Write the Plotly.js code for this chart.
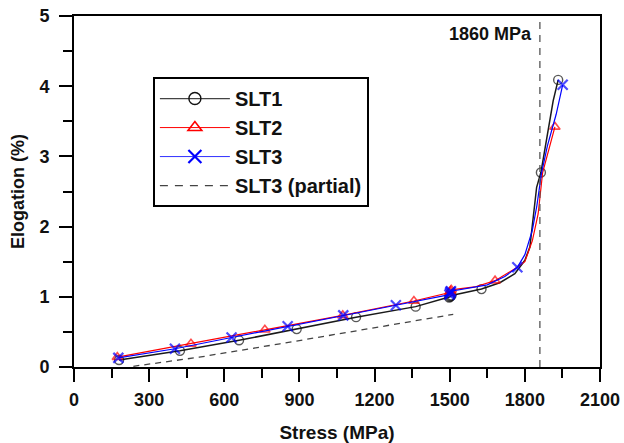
<!DOCTYPE html>
<html>
<head>
<meta charset="utf-8">
<script src="https://cdn.plot.ly/plotly-3.0.1.min.js"></script>
<style>html,body{margin:0;padding:0;background:#fff;}#chart{width:624px;height:443px;}</style>
</head>
<body>
<div id="chart"></div>
<script>
// ---- Data ----
// SLT1: sampled curve points (no marker) and marker points
const slt1CurveX = [1700, 1760, 1800, 1820, 1834, 1847, 1887, 1913];
const slt1CurveY = [1.20, 1.33, 1.52, 1.71, 2.18, 2.56, 3.23, 3.79];
const slt1MarkX = [180, 423, 659, 889, 1126, 1364, 1498, 1501, 1504, 1507, 1627, 1864, 1933];
const slt1MarkY = [0.10, 0.23, 0.38, 0.54, 0.71, 0.86, 0.99, 1.00, 1.01, 1.02, 1.11, 2.77, 4.09];

const slt2CurveX = [1600, 1760, 1800, 1830, 1853, 1871, 1895];
const slt2CurveY = [1.14, 1.40, 1.50, 1.80, 2.18, 2.77, 3.10];
const slt2MarkX = [173, 467, 762, 1073, 1357, 1500, 1503, 1506, 1681, 1920];
const slt2MarkY = [0.14, 0.33, 0.53, 0.735, 0.94, 1.06, 1.08, 1.10, 1.23, 3.42];

const slt3CurveX = [1650, 1720, 1800, 1830, 1848, 1866, 1890, 1925];
const slt3CurveY = [1.17, 1.29, 1.60, 1.95, 2.30, 2.75, 3.15, 3.60];
const slt3MarkX = [177, 403, 629, 853, 1075, 1285, 1499, 1501, 1503, 1505, 1770, 1951];
const slt3MarkY = [0.13, 0.26, 0.42, 0.58, 0.735, 0.88, 1.03, 1.05, 1.07, 1.08, 1.42, 4.02];

const partialX = [237, 500, 822, 1100, 1514];
const partialY = [0.01, 0.14, 0.33, 0.50, 0.75];

const seriesNames = ['SLT1', 'SLT2', 'SLT3', 'SLT3 (partial)'];

const refStress = 1860;
const refLabel = '1860 MPa';

const xTicks = [0, 300, 600, 900, 1200, 1500, 1800, 2100];
const yTicks = [0, 1, 2, 3, 4, 5];

// ---- Build traces ----
function merge(cx, cy, mx, my, msize) {
  const pts = [];
  cx.forEach((x, i) => pts.push({x: x, y: cy[i], s: 0}));
  mx.forEach((x, i) => pts.push({x: x, y: my[i], s: msize}));
  pts.sort((a, b) => a.x - b.x || a.y - b.y);
  return {x: pts.map(p => p.x), y: pts.map(p => p.y), s: pts.map(p => p.s)};
}
const s1 = merge(slt1CurveX, slt1CurveY, slt1MarkX, slt1MarkY, 9);
const s2 = merge(slt2CurveX, slt2CurveY, slt2MarkX, slt2MarkY, 9);
const s3 = merge(slt3CurveX, slt3CurveY, slt3MarkX, slt3MarkY, 10);

const FONT = 'Liberation Sans, Arial, sans-serif';

const styles = [
  {line: {color: '#1a1a1a', width: 1.5}, lline: {color: '#444', width: 1.2},
   marker: {symbol: 'circle-open', color: '#111111', line: {width: 1.4}}},
  {line: {color: '#ff0000', width: 1.2}, lline: {color: '#ff0000', width: 1.0},
   marker: {symbol: 'triangle-up-open', color: '#ff0000', line: {width: 1.6}}},
  {line: {color: '#0000ff', width: 1.2}, lline: {color: '#3030ff', width: 1.0},
   marker: {symbol: 'x-thin-open', color: '#0000ff', line: {width: 2.2, color: '#0000ff'}}}
];
const series = [s1, s2, s3];

const traces = [];
series.forEach((s, i) => {
  traces.push({x: s.x, y: s.y, name: seriesNames[i], mode: 'lines+markers', type: 'scatter',
    showlegend: false, line: styles[i].line,
    marker: Object.assign({}, styles[i].marker, {size: s.s})});
});
traces.push({x: partialX, y: partialY, name: seriesNames[3], mode: 'lines', type: 'scatter',
  showlegend: false, line: {color: '#444444', width: 1.3, dash: '6px,5px'}});
// legend entries (no data of their own)
series.forEach((s, i) => {
  traces.push({x: [null], y: [null], name: seriesNames[i], mode: 'lines+markers', type: 'scatter',
    showlegend: true, line: styles[i].lline,
    marker: Object.assign({}, styles[i].marker, {size: i === 2 ? 13 : 12})});
});
traces.push({x: [null], y: [null], name: seriesNames[3], mode: 'lines', type: 'scatter',
  showlegend: true, line: {color: '#444444', width: 1.2, dash: '8px,7px'}});

const layout = {
  width: 624, height: 443,
  margin: {l: 74, r: 24, t: 16, b: 76},
  paper_bgcolor: '#fff', plot_bgcolor: '#fff',
  font: {family: FONT, color: '#111', size: 18},
  showlegend: true,
  legend: {
    x: 0.150, y: 0.826, xanchor: 'left', yanchor: 'top',
    bgcolor: '#fff', bordercolor: '#000', borderwidth: 2,
    font: {family: FONT, size: 20, weight: 'bold', color: '#111'},
    itemwidth: 70, tracegroupgap: 0
  },
  xaxis: {
    range: [0, 2100], tickvals: xTicks, ticks: 'outside', ticklen: 13, tickwidth: 2, tickcolor: '#000',
    showline: true, linecolor: '#000', linewidth: 2, mirror: true,
    showgrid: false, zeroline: false, ticklabelstandoff: 2,
    tickfont: {family: FONT, size: 18, weight: 'bold', color: '#111'},
    minor: {dtick: 150, ticks: 'outside', ticklen: 9, tickwidth: 2, tickcolor: '#000', showgrid: false},
    title: {text: 'Stress (MPa)', font: {family: FONT, size: 19, weight: 'bold', color: '#111'}, standoff: 20}
  },
  yaxis: {
    range: [0, 5], tickvals: yTicks, ticks: 'outside', ticklen: 13, tickwidth: 2, tickcolor: '#000',
    showline: true, linecolor: '#000', linewidth: 2, mirror: true,
    showgrid: false, zeroline: false, ticklabelstandoff: 6,
    tickfont: {family: FONT, size: 18, weight: 'bold', color: '#111'},
    minor: {dtick: 0.5, ticks: 'outside', ticklen: 9, tickwidth: 2, tickcolor: '#000', showgrid: false},
    title: {text: 'Elogation (%)', font: {family: FONT, size: 18, weight: 'bold', color: '#111'}, standoff: 10}
  },
  shapes: [
    {type: 'line', xref: 'x', yref: 'y', x0: refStress, x1: refStress, y0: 0, y1: 4.97,
     line: {color: '#555', width: 1.3, dash: '7px,6px'}}
  ],
  annotations: [
    {xref: 'x', yref: 'y', x: refStress, y: 4.74, text: refLabel, showarrow: false,
     xanchor: 'right', yanchor: 'middle', xshift: -6,
     font: {family: FONT, size: 18, weight: 'bold', color: '#111'}}
  ]
};

Plotly.newPlot('chart', traces, layout, {staticPlot: true, displayModeBar: false});
</script>
</body>
</html>
